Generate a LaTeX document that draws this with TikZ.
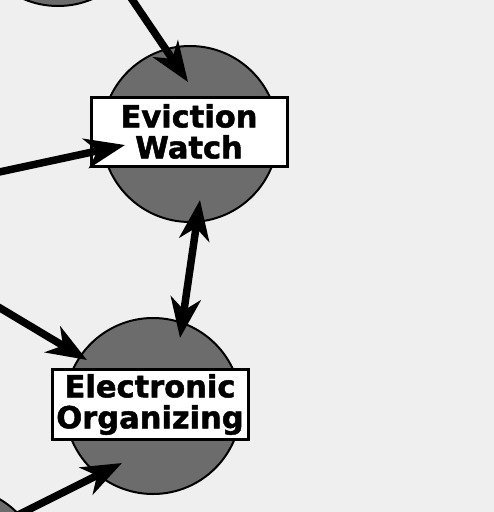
\documentclass[tikz,border=0pt]{standalone}
\usepackage{fontspec}
\setmainfont{DejaVu Sans}[BoldFeatures={FakeBold=1.6}]
\usetikzlibrary{arrows.meta}
\definecolor{paper}{HTML}{EFEFEF}
\definecolor{disc}{HTML}{6C6C6C}
\begin{document}
\begin{tikzpicture}[x=1pt,y=-1pt,
  discnode/.style={circle,draw=black,line width=2pt,fill=disc,minimum size=176pt,inner sep=0pt},
  labelbox/.style={draw=black,line width=3pt,fill=white,inner sep=0pt,align=center,
    font=\fontsize{30.5}{31}\selectfont\bfseries},
  link/.style={line width=7.5pt,-{Stealth[length=40pt,width=30pt,inset=12pt]}},
  dlink/.style={line width=7.5pt,{Stealth[length=40pt,width=30pt,inset=12pt]}-{Stealth[length=40pt,width=30pt,inset=12pt]}}]
\fill[paper] (0,0) rectangle (494,512);
\useasboundingbox (0,0) rectangle (494,512);
\begin{scope}
\clip (0,0) rectangle (494,512);
\node[discnode] (top) at (58,-82) {};
\node[discnode] (low) at (-45,575) {};
\node[discnode] (ew) at (190,134) {};
\node[discnode] (eo) at (153,406) {};
\node[labelbox,minimum width=196pt,minimum height=69pt] (ewl) at (189,131.5) {Eviction\\Watch};
\node[labelbox,minimum width=196pt,minimum height=70pt] (eol) at (150,404.5) {Electronic\\Organizing};
\coordinate (t1) at (127,-8);
\coordinate (h1) at (188,82);
\coordinate (t2) at (-10,174);
\coordinate (h2) at (125,145);
\coordinate (d1) at (200,200);
\coordinate (d2) at (180,338);
\coordinate (t3) at (-10,302);
\coordinate (h3) at (87,360);
\coordinate (t4) at (0,524);
\coordinate (h4) at (122,463);
\draw[link] (t1) -- (h1);
\draw[link] (t2) -- (h2);
\draw[dlink] (d1) -- (d2);
\draw[link] (t3) -- (h3);
\draw[link] (t4) -- (h4);
\end{scope}
\end{tikzpicture}
\end{document}
